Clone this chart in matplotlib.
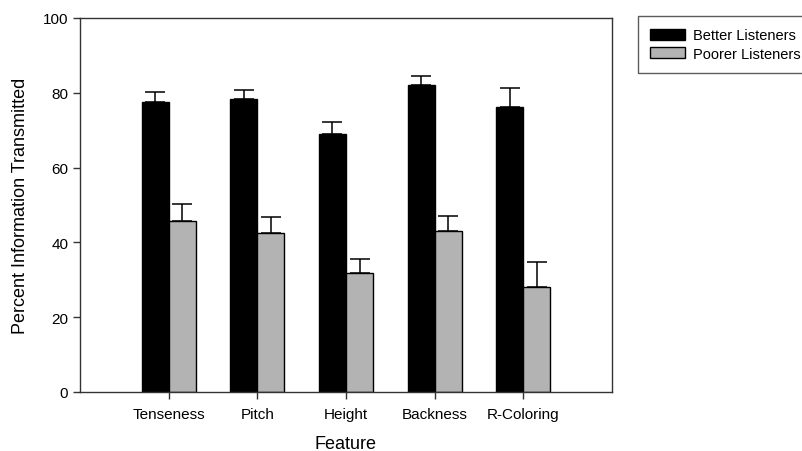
import matplotlib
matplotlib.use("Agg")
import matplotlib.pyplot as plt
import numpy as np

plt.rcParams['font.family'] = ['Liberation Sans', 'DejaVu Sans']

features = ["Tenseness", "Pitch", "Height", "Backness", "R-Coloring"]
better = [77.6, 78.4, 68.9, 82.2, 76.1]
better_err = [2.6, 2.4, 3.3, 2.4, 5.1]
poorer = [45.6, 42.5, 31.7, 43.1, 28.0]
poorer_err = [4.7, 4.4, 3.9, 3.9, 6.7]
y_ticks = [0, 20, 40, 60, 80, 100]

fig = plt.figure(figsize=(8.03, 4.52), dpi=100)
ax = fig.add_axes([80 / 803, 59 / 452, 532 / 803, 374 / 452])

x = np.arange(1, len(features) + 1)
w = 0.305
err_kw = dict(ecolor='black', elinewidth=1.1, capsize=7.5, capthick=1.1)

ax.bar(x - w / 2, better, w, color='black', edgecolor='black', linewidth=1,
       label='Better Listeners')
ax.errorbar(x - w / 2, better, yerr=[np.zeros(len(better)), better_err],
            fmt='none', **err_kw)
ax.bar(x + w / 2, poorer, w, color='#b3b3b3', edgecolor='black', linewidth=1,
       label='Poorer Listeners')
ax.errorbar(x + w / 2, poorer, yerr=[np.zeros(len(poorer)), poorer_err],
            fmt='none', **err_kw)

ax.set_xlim(0, len(features) + 1)
ax.set_ylim(0, 100)
ax.set_yticks(y_ticks)
ax.set_xticks(x)
ax.set_xticklabels(features)
ax.tick_params(axis='both', direction='out', length=5, width=1, colors='#333333',
               labelcolor='black', labelsize=11)
ax.tick_params(axis='x', pad=6)
for s in ax.spines.values():
    s.set_color('#333333')
    s.set_linewidth(1)

ax.set_xlabel('Feature', fontsize=13, labelpad=10)
ax.set_ylabel('Percent Information Transmitted', fontsize=13, labelpad=10)

leg = fig.legend(loc='upper left', bbox_to_anchor=(638 / 803, 1 - 17 / 452),
                 fontsize=10.5, frameon=True, fancybox=False, edgecolor='#333333',
                 handlelength=2.4, handleheight=0.75, handletextpad=0.55,
                 labelspacing=0.3, borderpad=0.85, borderaxespad=0)
leg.get_frame().set_linewidth(1)

fig.savefig('out.png', dpi=100)
